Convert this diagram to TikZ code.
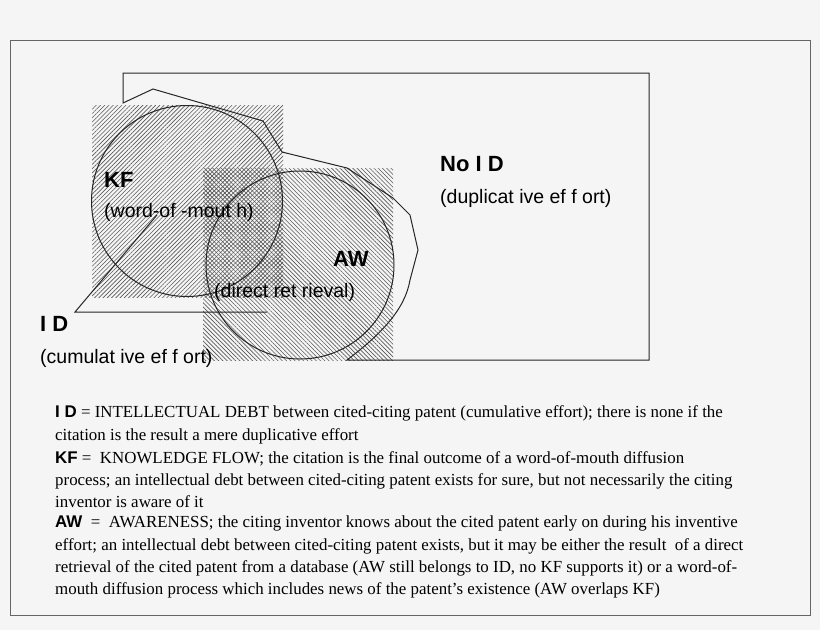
\documentclass[tikz,border=0pt]{standalone}
\usepackage{fontspec}
\setmainfont{Liberation Serif}
\newfontfamily\hv{Liberation Sans}
\usetikzlibrary{patterns.meta}
\tikzset{
  lbl/.style={anchor=base west,inner sep=0pt,font=\hv\fontsize{19.5}{22}\selectfont},
  blbl/.style={anchor=base west,inner sep=0pt,font=\hv\bfseries\fontsize{22}{26}\selectfont},
  txt/.style={anchor=base west,inner sep=0pt,font=\fontsize{16.9}{19}\selectfont},
  line/.style={draw=black!85,line width=1pt},
  hatchA/.style={pattern={Lines[angle=45,distance=3pt,line width=0.6pt]},pattern color=black!65},
  hatchB/.style={pattern={Lines[angle=-45,distance=3pt,line width=0.6pt]},pattern color=black!65}
}
\begin{document}
\begin{tikzpicture}[x=1pt,y=-1pt]
\useasboundingbox (0,0) rectangle (820,630);
\fill[black!4] (0,0) rectangle (820,630);
\draw[black!60] (10,40) rectangle (810,615);
% hatched squares
\fill[hatchA] (92,105) rectangle (283,297);
\fill[hatchB] (203,168) rectangle (393,360);
% No ID outline
\draw[line] (123,103) -- (123,73) -- (649,73) -- (649,360) -- (347,360)
  .. controls (380,335) and (405,310) .. (410,280) -- (418,250) -- (410,215) -- (393,198) -- (347,168) -- (282,152) -- (263,121) -- (153,89) -- cycle;
% circles
\node[line,circle,minimum size=191pt,inner sep=0pt] (kf) at (187,201) {};
\node[line,circle,minimum size=188pt,inner sep=0pt] (aw) at (300,265) {};
% ID connector
\coordinate (c0) at (157,215);
\coordinate (c1) at (75,312);
\coordinate (c2) at (267,312);
\draw[line] (c0) -- (c1) -- (c2);
% labels
\node[blbl] (kft) at (104,187) {KF};
\node[lbl] (kfs) at (104,217) {(word-of -mout h)};
\node[blbl] (awt) at (333,266) {AW};
\node[lbl] (aws) at (214,297) {(direct ret rieval)};
\node[blbl] (noid) at (440,171) {No I D};
\node[lbl] (nos) at (440,203) {(duplicat ive ef f ort)};
\node[blbl] (idt) at (40,331) {I D};
\node[lbl] (ids) at (40,363) {(cumulat ive ef f ort)};
% legend
\node[txt] (t1) at (55,417) {{\hv\bfseries I D} = INTELLECTUAL DEBT between cited-citing patent (cumulative effort); there is none if the};
\node[txt] (t2) at (55,440) {citation is the result a mere duplicative effort};
\node[txt] (t3) at (55,463) {{\hv\bfseries KF} = \ KNOWLEDGE FLOW; the citation is the final outcome of a word-of-mouth diffusion};
\node[txt] (t4) at (55,485) {process; an intellectual debt between cited-citing patent exists for sure, but not necessarily the citing};
\node[txt] (t5) at (55,507) {inventor is aware of it};
\node[txt] (t6) at (55,527) {{\hv\bfseries AW} \ = \ AWARENESS; the citing inventor knows about the cited patent early on during his inventive};
\node[txt] (t7) at (55,550) {effort; an intellectual debt between cited-citing patent exists, but it may be either the result \ of a direct};
\node[txt] (t8) at (55,572) {retrieval of the cited patent from a database (AW still belongs to ID, no KF supports it) or a word-of-};
\node[txt] (t9) at (55,594) {mouth diffusion process which includes news of the patent's existence (AW overlaps KF)};
\end{tikzpicture}
\end{document}
